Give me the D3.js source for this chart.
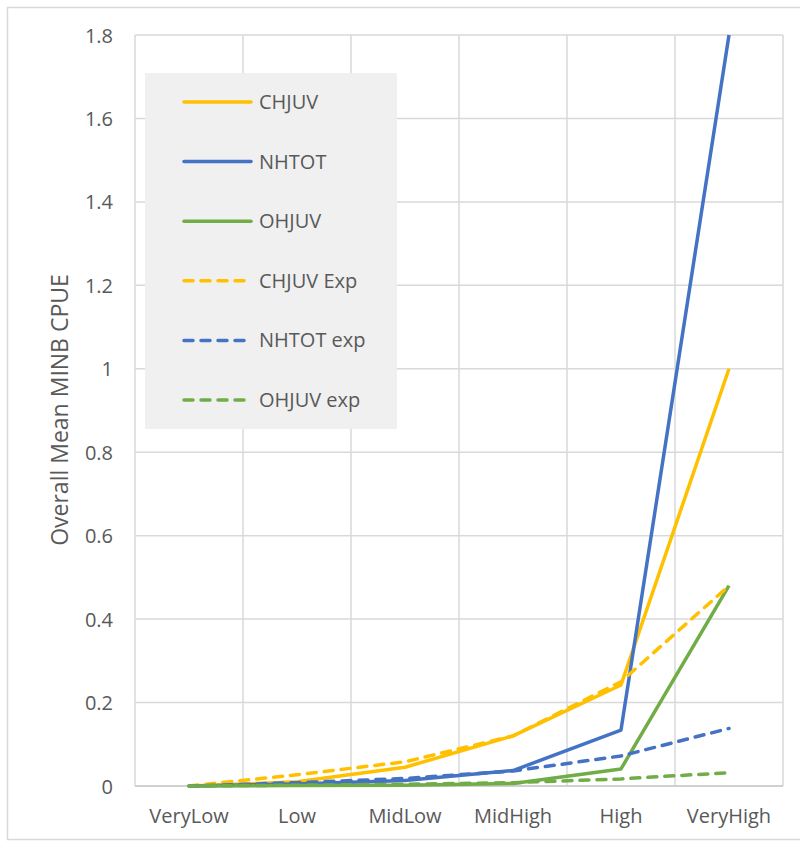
<!DOCTYPE html>
<html>
<head>
<meta charset="utf-8">
<script src="https://cdn.jsdelivr.net/npm/d3@7"></script>
<style>
  html, body { margin: 0; padding: 0; background: #fff; }
  svg { display: block; }
  text { font-family: "Open Sans", "Noto Sans", sans-serif; fill: #595959; }
</style>
</head>
<body>
<svg id="chart" width="800" height="843"></svg>
<script>
// Abundance classes along the x axis
const categories = ["VeryLow", "Low", "MidLow", "MidHigh", "High", "VeryHigh"];

// Observed mean CPUE per class
const chjuv = [0, 0.010, 0.045, 0.120, 0.242, 1.000];
const nhtot = [0, 0.005, 0.013, 0.037, 0.134, 1.800];
const ohjuv = [0, 0.001, 0.002, 0.006, 0.041, 0.480];

// Expected CPUE per class
const chjuvExp = [0, 0.027, 0.058, 0.120, 0.250, 0.480];
const nhtotExp = [0, 0.008, 0.018, 0.036, 0.072, 0.138];
const ohjuvExp = [0, 0.002, 0.004, 0.008, 0.017, 0.032];

const yTicks = [0, 0.2, 0.4, 0.6, 0.8, 1, 1.2, 1.4, 1.6, 1.8];

const series = [
  { name: "CHJUV",     values: chjuv,    color: "#FFC000", dashed: false },
  { name: "NHTOT",     values: nhtot,    color: "#4472C4", dashed: false },
  { name: "OHJUV",     values: ohjuv,    color: "#70AD47", dashed: false },
  { name: "CHJUV Exp", values: chjuvExp, color: "#FFC000", dashed: true },
  { name: "NHTOT exp", values: nhtotExp, color: "#4472C4", dashed: true },
  { name: "OHJUV exp", values: ohjuvExp, color: "#70AD47", dashed: true }
];

const svg = d3.select("#chart");
const plot = { left: 135, right: 783, top: 35, bottom: 786 };

// outer chart frame
svg.append("rect")
  .attr("x", 7.5).attr("y", 7.5)
  .attr("width", 800).attr("height", 832)
  .attr("fill", "none").attr("stroke", "#d9d9d9").attr("stroke-width", 1.5);

const x = d3.scaleBand().domain(categories).range([plot.left, plot.right]).padding(0);
const y = d3.scaleLinear().domain([0, 1.8]).range([plot.bottom, plot.top]);

// horizontal gridlines
svg.append("g").selectAll("line").data(yTicks).join("line")
  .attr("x1", plot.left).attr("x2", plot.right)
  .attr("y1", d => y(d)).attr("y2", d => y(d))
  .attr("stroke", "#d9d9d9").attr("stroke-width", 1.5);

// vertical gridlines at band boundaries
const vEdges = categories.map(c => x(c)).concat([plot.right]);
svg.append("g").selectAll("line").data(vEdges).join("line")
  .attr("x1", d => d).attr("x2", d => d)
  .attr("y1", plot.top).attr("y2", plot.bottom)
  .attr("stroke", "#d9d9d9").attr("stroke-width", 1.5);

// x axis line
svg.append("line")
  .attr("x1", plot.left).attr("x2", plot.right)
  .attr("y1", plot.bottom).attr("y2", plot.bottom)
  .attr("stroke", "#d0d0d0").attr("stroke-width", 2);

// y axis tick labels
const yAxis = d3.axisLeft(y).tickValues(yTicks).tickSize(0).tickPadding(0)
  .tickFormat(d => String(+d.toFixed(1)));
const yg = svg.append("g").attr("transform", `translate(${plot.left - 22},0)`).call(yAxis);
yg.select(".domain").remove();
yg.selectAll("text").attr("font-size", 20).attr("dy", "0.35em")
  .style("font-family", "'Open Sans', sans-serif").attr("fill", "#595959");

// x axis category labels
const xAxis = d3.axisBottom(x).tickSize(0).tickPadding(0);
const xg = svg.append("g").attr("transform", `translate(0,${plot.bottom + 30})`).call(xAxis);
xg.select(".domain").remove();
xg.selectAll("text").attr("font-size", 20).attr("dy", "0.35em")
  .style("font-family", "'Open Sans', sans-serif").attr("fill", "#595959");

// y axis title
svg.append("text")
  .attr("transform", `translate(60,410) rotate(-90)`)
  .attr("text-anchor", "middle")
  .attr("dy", "0.35em")
  .attr("font-size", 23)
  .text("Overall Mean MINB CPUE");

// series lines
const line = d3.line()
  .x((d, i) => x(categories[i]) + x.bandwidth() / 2)
  .y(d => y(d));

svg.append("g").selectAll("path").data(series).join("path")
  .attr("d", d => line(d.values))
  .attr("fill", "none")
  .attr("stroke", d => d.color)
  .attr("stroke-width", 3.5)
  .attr("stroke-linejoin", "round")
  .attr("stroke-linecap", d => d.dashed ? "round" : "butt")
  .attr("stroke-dasharray", d => d.dashed ? "9,8" : null);

// legend
const legend = svg.append("g");
legend.append("rect")
  .attr("x", 145).attr("y", 73).attr("width", 252).attr("height", 356)
  .attr("fill", "#f0f0f0");
const rows = legend.selectAll("g.row").data(series).join("g")
  .attr("class", "row")
  .attr("transform", (d, i) => `translate(0,${102 + i * 59.6})`);
rows.append("line")
  .attr("x1", 184).attr("x2", 251)
  .attr("stroke", d => d.color).attr("stroke-width", 3.5)
  .attr("stroke-linecap", "round")
  .attr("stroke-dasharray", d => d.dashed ? "9,8" : null);
rows.append("text")
  .attr("x", 259).attr("dy", "0.35em")
  .attr("font-size", 20)
  .text(d => d.name);
</script>
</body>
</html>
